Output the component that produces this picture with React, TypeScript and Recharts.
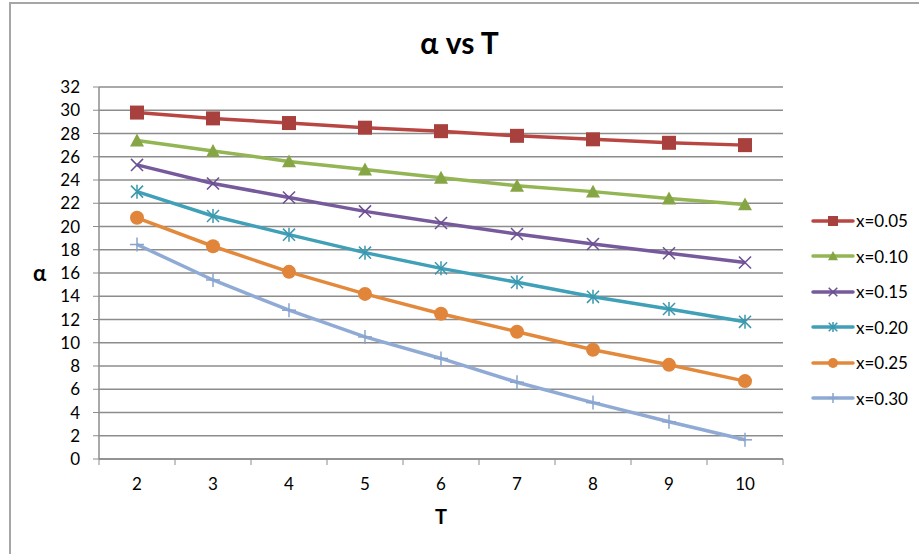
import React from 'react';
import { LineChart, Line, XAxis, YAxis, CartesianGrid } from 'recharts';

const tValues = [2, 3, 4, 5, 6, 7, 8, 9, 10];
const alphaX005 = [29.8, 29.3, 28.9, 28.5, 28.2, 27.8, 27.5, 27.2, 27.0];
const alphaX010 = [27.4, 26.5, 25.6, 24.9, 24.2, 23.5, 23.0, 22.4, 21.9];
const alphaX015 = [25.3, 23.7, 22.5, 21.3, 20.3, 19.35, 18.5, 17.7, 16.9];
const alphaX020 = [23.0, 20.9, 19.3, 17.75, 16.4, 15.2, 13.95, 12.9, 11.8];
const alphaX025 = [20.75, 18.3, 16.1, 14.2, 12.5, 10.95, 9.4, 8.1, 6.7];
const alphaX030 = [18.45, 15.4, 12.8, 10.5, 8.65, 6.6, 4.85, 3.2, 1.65];
const yTicks = [0, 2, 4, 6, 8, 10, 12, 14, 16, 18, 20, 22, 24, 26, 28, 30, 32];

type Shape = 'square' | 'triangle' | 'cross' | 'star' | 'circle' | 'plus';

type Series = {
    key: string;
    label: string;
    values: number[];
    color: string;
    markerColor: string;
    shape: Shape;
};

const series: Series[] = [
    { key: 'x005', label: 'x=0.05', values: alphaX005, color: '#B84743', markerColor: '#A8413D', shape: 'square' },
    { key: 'x010', label: 'x=0.10', values: alphaX010, color: '#93B553', markerColor: '#86A646', shape: 'triangle' },
    { key: 'x015', label: 'x=0.15', values: alphaX015, color: '#765A9C', markerColor: '#6A4F92', shape: 'cross' },
    { key: 'x020', label: 'x=0.20', values: alphaX020, color: '#3FA0B8', markerColor: '#3A97AE', shape: 'star' },
    { key: 'x025', label: 'x=0.25', values: alphaX025, color: '#E3893C', markerColor: '#E0853A', shape: 'circle' },
    { key: 'x030', label: 'x=0.30', values: alphaX030, color: '#8FAAD4', markerColor: '#88A3CE', shape: 'plus' },
];

const data = tValues.map((t, i) => {
    const row: Record<string, number> = { T: t };
    series.forEach((s) => {
        row[s.key] = s.values[i];
    });
    return row;
});

const FONT = 'Lato, "Open Sans", sans-serif';
const GRID = '#8C8C8C';
const BAND = 76;

const Marker = ({ cx, cy, shape, color, size = 14 }: { cx: number; cy: number; shape: Shape; color: string; size?: number }) => {
    const h = size / 2;
    const c = h * 0.86;
    switch (shape) {
        case 'square':
            return <rect x={cx - h} y={cy - h} width={size} height={size} fill={color} />;
        case 'triangle':
            return <path d={`M${cx},${cy - h} L${cx + h},${cy + h * 0.85} L${cx - h},${cy + h * 0.85} Z`} fill={color} />;
        case 'circle':
            return <circle cx={cx} cy={cy} r={h} fill={color} />;
        case 'cross':
            return (
                <g stroke={color} strokeWidth={1.5}>
                    <line x1={cx - c} y1={cy - c} x2={cx + c} y2={cy + c} />
                    <line x1={cx - c} y1={cy + c} x2={cx + c} y2={cy - c} />
                </g>
            );
        case 'star':
            return (
                <g stroke={color} strokeWidth={1.5}>
                    <line x1={cx - c} y1={cy - c} x2={cx + c} y2={cy + c} />
                    <line x1={cx - c} y1={cy + c} x2={cx + c} y2={cy - c} />
                    <line x1={cx} y1={cy - h} x2={cx} y2={cy + h} />
                </g>
            );
        case 'plus':
        default:
            return (
                <g stroke={color} strokeWidth={1.5}>
                    <line x1={cx - h} y1={cy} x2={cx + h} y2={cy} />
                    <line x1={cx} y1={cy - h} x2={cx} y2={cy + h} />
                </g>
            );
    }
};

const XTick = (props: any) => {
    const { x, y, payload, index } = props;
    return (
        <g>
            <line x1={x - BAND / 2} y1={y} x2={x - BAND / 2} y2={y + 6} stroke={GRID} />
            {index === tValues.length - 1 && (
                <line x1={x + BAND / 2} y1={y} x2={x + BAND / 2} y2={y + 6} stroke={GRID} />
            )}
            <text x={x} y={y + 31} textAnchor="middle" fontSize={17} fill="#000" fontFamily={FONT}>
                {payload.value}
            </text>
        </g>
    );
};

const App = () => {
    return (
        <div style={{ position: 'absolute', left: 0, top: 0, width: 919, height: 554, overflow: 'hidden', background: '#fff' }}>
            <div
                style={{
                    position: 'absolute',
                    left: 9,
                    top: 2,
                    width: 940,
                    height: 600,
                    borderLeft: '2px solid #A6A6A6',
                    borderTop: '2px solid #A6A6A6',
                }}
            />
            <div
                style={{
                    position: 'absolute',
                    left: 0,
                    top: 24,
                    width: 919,
                    textAlign: 'center',
                    fontFamily: FONT,
                    fontWeight: 'bold',
                    fontSize: 30,
                    color: '#000',
                }}
            >
                α vs T
            </div>
            <div style={{ position: 'absolute', left: 0, top: 0 }}>
                <LineChart width={919} height={554} data={data} margin={{ top: 87, right: 136, bottom: 55, left: 39 }}>
                    <CartesianGrid vertical={false} stroke={GRID} strokeWidth={1.5} />
                    <XAxis
                        dataKey="T"
                        height={40}
                        padding={{ left: BAND / 2, right: BAND / 2 }}
                        interval={0}
                        tickSize={0}
                        tickMargin={0}
                        tickLine={false}
                        axisLine={{ stroke: GRID, strokeWidth: 1.5 }}
                        tick={<XTick />}
                    />
                    <YAxis
                        width={60}
                        domain={[0, 32]}
                        ticks={yTicks}
                        interval={0}
                        tickSize={6}
                        tickMargin={13}
                        axisLine={{ stroke: GRID, strokeWidth: 1.5 }}
                        tickLine={{ stroke: GRID }}
                        tick={{ fill: '#000', fontSize: 17, fontFamily: FONT }}
                    />
                    {series.map((s) => (
                        <Line
                            key={s.key}
                            dataKey={s.key}
                            name={s.label}
                            stroke={s.color}
                            strokeWidth={3.5}
                            isAnimationActive={false}
                            dot={(p: any) => (
                                <Marker key={`${s.key}-${p.index}`} cx={p.cx} cy={p.cy} shape={s.shape} color={s.markerColor} />
                            )}
                            activeDot={false}
                        />
                    ))}
                </LineChart>
            </div>
            <div
                style={{
                    position: 'absolute',
                    left: 33,
                    top: 259,
                    fontFamily: FONT,
                    fontWeight: 'bold',
                    fontSize: 22,
                    color: '#000',
                }}
            >
                α
            </div>
            <div
                style={{
                    position: 'absolute',
                    left: 0,
                    top: 504,
                    width: 882,
                    textAlign: 'center',
                    fontFamily: FONT,
                    fontWeight: 'bold',
                    fontSize: 20,
                    color: '#000',
                }}
            >
                T
            </div>
            <div style={{ position: 'absolute', left: 811, top: 203, fontFamily: FONT, fontSize: 17, color: '#000' }}>
                {series.map((s) => (
                    <div key={s.key} style={{ display: 'flex', alignItems: 'center', height: 35.5 }}>
                        <svg width={44} height={20}>
                            <line x1={2} y1={10} x2={42} y2={10} stroke={s.color} strokeWidth={3.5} strokeLinecap="round" />
                            <Marker cx={22} cy={10} shape={s.shape} color={s.markerColor} size={10} />
                        </svg>
                        <span style={{ marginLeft: 1 }}>{s.label}</span>
                    </div>
                ))}
            </div>
        </div>
    );
};

export default App;
